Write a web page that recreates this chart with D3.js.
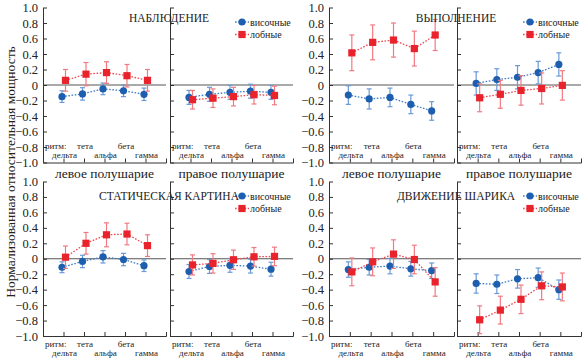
<!DOCTYPE html>
<html>
<head>
<meta charset="utf-8">
<script src="https://cdn.jsdelivr.net/npm/d3@7"></script>
<style>
  body { margin: 0; background: #fff; }
  text { font-family: "Liberation Serif", "Times New Roman", serif; fill: #222; }
</style>
</head>
<body>
<script>
// data
let rhythms = ["дельта", "тета", "альфа", "бета", "гамма"];
let groups = ["НАБЛЮДЕНИЕ", "ВЫПОЛНЕНИЕ", "СТАТИЧЕСКАЯ КАРТИНА", "ДВИЖЕНИЕ ШАРИКА"];
let hemispheres = ["левое полушарие", "правое полушарие"];
let seriesNames = ["височные", "лобные"];
let yTicks = [1.0, 0.8, 0.6, 0.4, 0.2, 0, -0.2, -0.4, -0.6, -0.8, -1.0];

// panel order: obs-left, obs-right, exec-left, exec-right, static-left, static-right, ball-left, ball-right
let temporalMean = [
    [-0.15, -0.115, -0.05, -0.075, -0.12],
    [-0.16, -0.12, -0.095, -0.08, -0.095],
    [-0.13, -0.18, -0.16, -0.25, -0.335],
    [0.02, 0.07, 0.10, 0.16, 0.265],
    [-0.11, -0.035, 0.025, -0.01, -0.09],
    [-0.165, -0.10, -0.085, -0.095, -0.135],
    [-0.14, -0.11, -0.095, -0.13, -0.155],
    [-0.32, -0.33, -0.26, -0.245, -0.40]
];
let temporalErr = [
    [0.075, 0.08, 0.075, 0.075, 0.08],
    [0.09, 0.09, 0.09, 0.09, 0.09],
    [0.12, 0.13, 0.12, 0.12, 0.12],
    [0.15, 0.14, 0.15, 0.145, 0.15],
    [0.07, 0.08, 0.08, 0.08, 0.075],
    [0.09, 0.09, 0.09, 0.09, 0.09],
    [0.10, 0.10, 0.10, 0.095, 0.10],
    [0.125, 0.12, 0.12, 0.125, 0.125]
];
let frontalMean = [
    [0.06, 0.14, 0.16, 0.12, 0.06],
    [-0.19, -0.17, -0.15, -0.125, -0.135],
    [0.415, 0.55, 0.58, 0.47, 0.645],
    [-0.165, -0.12, -0.07, -0.045, -0.005],
    [0.02, 0.20, 0.31, 0.32, 0.17],
    [-0.08, -0.06, -0.013, 0.025, 0.03],
    [-0.17, -0.04, 0.06, -0.01, -0.30],
    [-0.79, -0.665, -0.525, -0.35, -0.365]
];
let frontalErr = [
    [0.14, 0.15, 0.14, 0.145, 0.14],
    [0.12, 0.12, 0.12, 0.12, 0.12],
    [0.23, 0.225, 0.22, 0.225, 0.20],
    [0.18, 0.18, 0.19, 0.20, 0.19],
    [0.145, 0.14, 0.155, 0.14, 0.14],
    [0.13, 0.125, 0.125, 0.12, 0.12],
    [0.18, 0.18, 0.185, 0.185, 0.185],
    [0.18, 0.18, 0.185, 0.18, 0.18]
];

let colX = [[43, 166], [170, 293], [329, 454], [457, 581]];
let rowY = [[7.5, 162.5], [181.5, 336]];

let blue = { mark: "#1d5fae", err: "#6b9ad6", line: "#3f7cc8" };
let red = { mark: "#e8232b", err: "#f07a80", line: "#ec4a52" };

let svg = d3.select("body").append("svg")
    .attr("width", 582)
    .attr("height", 360);

let fmt = (d) => d === 0 ? "0" : d3.format(".1f")(d);

let drawPanel = (i) => {
    let row = Math.floor(i / 4);
    let col = i % 4;

    let x = d3.scalePoint().domain(rhythms).range(colX[col]).padding(1);
    let y = d3.scaleLinear().domain([-1, 1]).range([rowY[row][1], rowY[row][0]]);

    let g = svg.append("g");

    // zero line
    g.append("line")
        .attr("x1", colX[col][0]).attr("x2", colX[col][1])
        .attr("y1", y(0)).attr("y2", y(0))
        .attr("stroke", "#555").attr("stroke-width", 1);

    let yAxis = d3.axisLeft(y)
        .tickValues(yTicks)
        .tickSize(-4)
        .tickSizeOuter(0)
        .tickPadding(5)
        .tickFormat(col % 2 === 0 ? fmt : "");
    let ya = g.append("g")
        .attr("transform", "translate(" + colX[col][0] + ",0)")
        .call(yAxis);
    ya.selectAll("text").style("font-size", "12.5px").style("font-family", "Liberation Serif, serif").attr("fill", "#222");
    ya.selectAll("line, path").attr("stroke", "#333");

    let xAxis = d3.axisBottom(x).tickSize(-4).tickSizeOuter(-4).tickFormat("");
    let xa = g.append("g")
        .attr("transform", "translate(0," + y(-1) + ")")
        .call(xAxis);
    xa.selectAll("line, path").attr("stroke", "#333");

    // rhythm labels
    let upper, lower;
    if (row === 0) {
        upper = y(-1) - 13.5;
        lower = y(-1) - 4.5;
    } else {
        upper = y(-1) + 11;
        lower = y(-1) + 20;
    }
    g.append("text")
        .attr("x", colX[col][0] + 2)
        .attr("y", upper)
        .style("font-size", "9px")
        .text("ритм:");
    rhythms.forEach((r, j) => {
        g.append("text")
            .attr("x", x(r) + 1)
            .attr("y", j % 2 === 0 ? lower : upper)
            .attr("text-anchor", "middle")
            .style("font-size", "9px")
            .text(r);
    });

    let series = [
        { mean: temporalMean[i], err: temporalErr[i], c: blue, dx: -1.5, shape: "circle" },
        { mean: frontalMean[i], err: frontalErr[i], c: red, dx: 2, shape: "square" }
    ];

    series.forEach((s) => {
        let px = (j) => x(rhythms[j]) + s.dx;

        let line = d3.line()
            .x((d, j) => px(j))
            .y((d) => y(d));
        g.append("path")
            .attr("d", line(s.mean))
            .attr("fill", "none")
            .attr("stroke", s.c.line)
            .attr("stroke-width", 1.3)
            .attr("stroke-dasharray", "1.6,1.6");

        s.mean.forEach((m, j) => {
            let e = s.err[j];
            g.append("line")
                .attr("x1", px(j)).attr("x2", px(j))
                .attr("y1", y(m - e)).attr("y2", y(m + e))
                .attr("stroke", s.c.err).attr("stroke-width", 1.2);
            [m - e, m + e].forEach((v) => {
                g.append("line")
                    .attr("x1", px(j) - 2.5).attr("x2", px(j) + 2.5)
                    .attr("y1", y(v)).attr("y2", y(v))
                    .attr("stroke", s.c.err).attr("stroke-width", 1.2);
            });
            if (s.shape === "circle") {
                g.append("circle")
                    .attr("cx", px(j)).attr("cy", y(m))
                    .attr("r", 3.6)
                    .attr("fill", s.c.mark);
            } else {
                g.append("rect")
                    .attr("x", px(j) - 3.6).attr("y", y(m) - 3.6)
                    .attr("width", 7.2).attr("height", 7.2)
                    .attr("fill", s.c.mark);
            }
        });
    });

    if (row === 0) {
        svg.append("text")
            .attr("x", (colX[col][0] + colX[col][1]) / 2)
            .attr("y", 178)
            .attr("text-anchor", "middle")
            .style("font-size", "13.5px")
            .text(hemispheres[col % 2]);
    }

    // legend in right-hemisphere panels
    if (col % 2 === 1) {
        let lx = colX[col][1] - 51;
        [blue, red].forEach((c, k) => {
            let ly = rowY[row][0] + 14.5 + k * 12.5;
            g.append("line")
                .attr("x1", lx - 7).attr("x2", lx + 7)
                .attr("y1", ly).attr("y2", ly)
                .attr("stroke", c.line).attr("stroke-width", 1.3)
                .attr("stroke-dasharray", "1.6,1.6");
            if (k === 0) {
                g.append("circle").attr("cx", lx).attr("cy", ly).attr("r", 3.6).attr("fill", c.mark);
            } else {
                g.append("rect").attr("x", lx - 3.6).attr("y", ly - 3.6)
                    .attr("width", 7.2).attr("height", 7.2).attr("fill", c.mark);
            }
            g.append("text")
                .attr("x", lx + 8)
                .attr("y", ly)
                .attr("dy", "0.35em")
                .style("font-size", "10px")
                .attr("fill", "#333")
                .text(seriesNames[k]);
        });
    }
};

for (let i = 0; i < 8; i++) {
    drawPanel(i);
}

// group titles, centered on the right panel's axis
groups.forEach((name, k) => {
    let row = Math.floor(k / 2);
    let col = (k % 2) * 2 + 1;
    svg.append("text")
        .attr("x", colX[col][0] - 1)
        .attr("y", row === 0 ? 22 : 199.5)
        .attr("text-anchor", "middle")
        .style("font-size", "11.5px")
        .text(name);
});

svg.append("text")
    .attr("transform", "translate(15,172) rotate(-90)")
    .attr("text-anchor", "middle")
    .style("font-size", "13.5px")
    .text("Нормализованная относительная мощность");
</script>
</body>
</html>
